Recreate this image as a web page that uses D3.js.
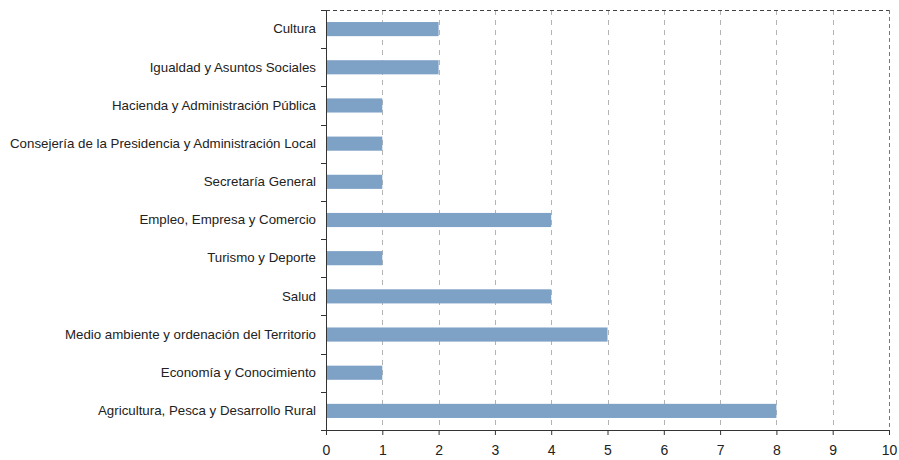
<!DOCTYPE html>
<html>
<head>
<meta charset="utf-8">
<script src="https://cdn.jsdelivr.net/npm/d3@7"></script>
<style>
  body { margin: 0; background: #fff; }
  svg { display: block; }
  text { font-family: "Liberation Sans", Arial, Helvetica, sans-serif; }
</style>
</head>
<body>
<div id="chart"></div>
<script>
// Categories, top to bottom
var categories = [
  "Cultura",
  "Igualdad y Asuntos Sociales",
  "Hacienda y Administración Pública",
  "Consejería de la Presidencia y Administración Local",
  "Secretaría General",
  "Empleo, Empresa y Comercio",
  "Turismo y Deporte",
  "Salud",
  "Medio ambiente y ordenación del Territorio",
  "Economía y Conocimiento",
  "Agricultura, Pesca y Desarrollo Rural"
];
var values = [2, 2, 1, 1, 1, 4, 1, 4, 5, 1, 8];
var xTicks = [0, 1, 2, 3, 4, 5, 6, 7, 8, 9, 10];

var margin = { top: 10, right: 10, bottom: 30, left: 326 },
  width = 899 - margin.left - margin.right,
  height = 460 - margin.top - margin.bottom;

var svg = d3.select("#chart")
  .append("svg")
  .attr("width", 899)
  .attr("height", 460)
  .append("g")
  .attr("transform", "translate(" + margin.left + "," + margin.top + ")");

var x = d3.scaleLinear().domain([0, 10]).range([0, width]);
var y = d3.scaleBand().domain(categories).range([0, height]).paddingInner(0.63).paddingOuter(0.315);

// Vertical grid lines
svg.selectAll(".grid")
  .data(xTicks.filter(function (d) { return d > 0 && d < 10; }))
  .enter()
  .append("line")
  .attr("x1", function (d) { return Math.round(x(d)) + 0.5; })
  .attr("x2", function (d) { return Math.round(x(d)) + 0.5; })
  .attr("y1", 0)
  .attr("y2", height)
  .attr("stroke", "#b4b4b4")
  .attr("stroke-dasharray", "5,5");

// Top and right dashed border
svg.append("line")
  .attr("x1", 0).attr("x2", width)
  .attr("y1", 0.5).attr("y2", 0.5)
  .attr("stroke", "#444")
  .attr("stroke-dasharray", "4,3");
svg.append("line")
  .attr("x1", Math.round(x(10)) + 0.5).attr("x2", Math.round(x(10)) + 0.5)
  .attr("y1", 0).attr("y2", height)
  .attr("stroke", "#777")
  .attr("stroke-dasharray", "4,3");

// Bars
svg.selectAll(".bar")
  .data(values)
  .enter()
  .append("rect")
  .attr("x", x(0))
  .attr("y", function (d, i) { return y(categories[i]); })
  .attr("width", function (d) { return x(d) - x(0); })
  .attr("height", y.bandwidth())
  .attr("fill", "#7ea1c6");

// X axis
var xaxis = svg.append("g")
  .attr("transform", "translate(0," + height + ")")
  .call(d3.axisBottom(x).tickValues(xTicks).tickSize(5).tickPadding(10).tickFormat(d3.format("d")));
xaxis.select(".domain").attr("stroke", "#333");
xaxis.selectAll(".tick line").attr("stroke", "#333");
xaxis.selectAll("text").style("font-size", "14px").attr("fill", "#222");

// Y axis with ticks between categories
var yaxis = svg.append("g")
  .call(d3.axisLeft(y).tickSize(0).tickPadding(10));
yaxis.select(".domain").attr("stroke", "#333");
yaxis.selectAll("text").style("font-size", "13.3px").attr("fill", "#222");

var bounds = d3.range(categories.length + 1).map(function (i) { return i * (height / categories.length); });
svg.selectAll(".ytick")
  .data(bounds)
  .enter()
  .append("line")
  .attr("x1", -5).attr("x2", 0)
  .attr("y1", function (d) { return Math.round(d) + 0.5; })
  .attr("y2", function (d) { return Math.round(d) + 0.5; })
  .attr("stroke", "#333");
</script>
</body>
</html>
